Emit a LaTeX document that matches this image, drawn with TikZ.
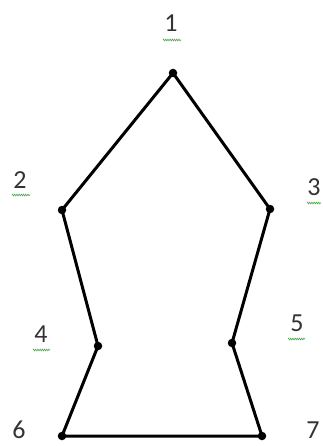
\documentclass[tikz,border=0pt]{standalone}
\usepackage{fontspec}
\setmainfont{Carlito}
\usetikzlibrary{decorations.pathmorphing}
\begin{document}
\begin{tikzpicture}[x=1pt,y=-1pt,
  vert/.style={circle,fill=black,inner sep=0pt,minimum size=8.5pt},
  lab/.style={font=\fontsize{26}{30}\selectfont,text=black!80,inner sep=0pt},
  edge/.style={line width=3pt,line join=miter},
  squig/.style={draw=green!50!black!70,line width=0.6pt,decorate,decoration={zigzag,amplitude=0.9pt,segment length=2.2pt}}]
\useasboundingbox (0,0) rectangle (323,446);
\node[vert] (v1) at (173,73) {};
\node[vert] (v2) at (62,210) {};
\node[vert] (v3) at (270,209) {};
\node[vert] (v4) at (98,346) {};
\node[vert] (v5) at (232,343) {};
\node[vert] (v6) at (62,436) {};
\node[vert] (v7) at (262,436) {};
\draw[edge] (v1.center) -- (v3.center) -- (v5.center) -- (v7.center) -- (v6.center) -- (v4.center) -- (v2.center) -- cycle;
\node[lab] (l1) at (171,23) {1};
\node[lab] (l2) at (20,180) {2};
\node[lab] (l3) at (314,187) {3};
\node[lab] (l4) at (41,334) {4};
\node[lab] (l5) at (297,323) {5};
\node[lab] (l6) at (19,430) {6};
\node[lab] (l7) at (313,430) {7};
\draw[squig] (163,40) -- (181,40);
\draw[squig] (12,195) -- (30,195);
\draw[squig] (307,203) -- (321,203);
\draw[squig] (33,350) -- (50,350);
\draw[squig] (288,339) -- (305,339);
\end{tikzpicture}
\end{document}
